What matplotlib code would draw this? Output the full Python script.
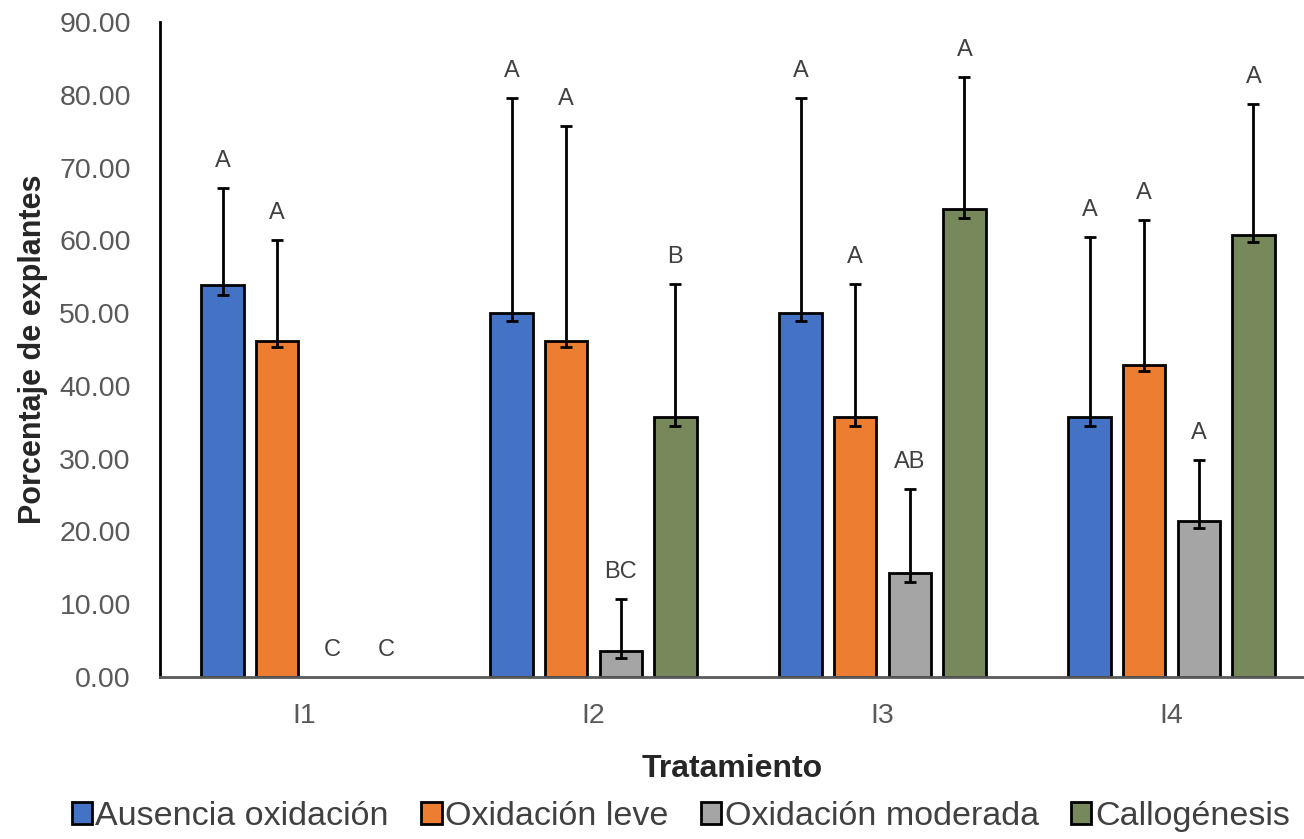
import matplotlib.pyplot as plt
import numpy as np

plt.rcParams['font.family'] = ['Liberation Sans', 'DejaVu Sans']

# tratamientos y series
tratamientos = ['I1', 'I2', 'I3', 'I4']
series = ['Ausencia oxidación', 'Oxidación leve', 'Oxidación moderada', 'Callogénesis']
colores = ['#4472C4', '#ED7D31', '#A5A5A5', '#77885A']

# porcentaje medio de explantes por serie (I1..I4)
ausencia = [53.85, 50.00, 50.00, 35.71]
leve = [46.15, 46.15, 35.71, 42.86]
moderada = [0.00, 3.57, 14.29, 21.43]
callo = [0.00, 35.71, 64.29, 60.71]

# barras de error (superior / inferior)
err_sup = [
    [13.4, 29.6, 29.5, 24.7],
    [13.9, 29.6, 18.3, 20.0],
    [0.0, 7.1, 11.6, 8.4],
    [0.0, 18.3, 18.2, 18.0],
]
err_inf = [
    [1.3, 1.1, 1.1, 1.2],
    [0.8, 0.8, 1.2, 0.8],
    [0.0, 0.9, 1.2, 0.9],
    [0.0, 1.2, 1.2, 0.9],
]

# letras de significancia
letras = [
    ['A', 'A', 'A', 'A'],
    ['A', 'A', 'A', 'A'],
    ['C', 'BC', 'AB', 'A'],
    ['C', 'B', 'A', 'A'],
]

valores = [ausencia, leve, moderada, callo]

fig = plt.figure(figsize=(13.04, 8.39), dpi=100)
ax = fig.add_axes([0.1227, 0.1931, 0.8773, 0.7807])

x = np.arange(len(tratamientos))
ancho = 0.147
paso = 0.189

for i, (vals, nombre, color) in enumerate(zip(valores, series, colores)):
    pos = x + (i - 1.5) * paso
    vals = np.array(vals)
    mask = vals > 0
    # las barras en cero no se dibujan
    ax.bar(pos[mask], vals[mask], width=ancho, color=color, edgecolor='black',
           linewidth=2, label=nombre, zorder=2)
    ax.errorbar(pos[mask], vals[mask],
                yerr=[np.array(err_inf[i])[mask], np.array(err_sup[i])[mask]],
                fmt='none', ecolor='black', elinewidth=2, capsize=4.5,
                capthick=2, zorder=3)
    for xp, v, e, letra in zip(pos, vals, err_sup[i], letras[i]):
        ax.text(xp, v + e + 3.7, letra, ha='center', va='center',
                fontsize=17, color='#404040')

ax.set_ylim(0, 90)
ax.set_xlim(-0.5, -0.5 + 1144 / 289)
ax.set_yticks(np.arange(0, 91, 10))
ax.set_yticklabels([f'{v:.2f}' for v in np.arange(0, 91, 10)])
ax.set_xticks(x)
ax.set_xticklabels(tratamientos)
ax.tick_params(axis='y', length=0, pad=21, labelsize=20.5, labelcolor='#595959')
ax.tick_params(axis='x', length=0, pad=19, labelsize=20.5, labelcolor='#595959')

for lado in ['top', 'right']:
    ax.spines[lado].set_visible(False)
ax.spines['left'].set_linewidth(2)
ax.spines['left'].set_color('black')
ax.spines['bottom'].set_linewidth(2)
ax.spines['bottom'].set_color('#595959')

ax.set_ylabel('Porcentaje de explantes', fontsize=22, fontweight='bold',
              color='#262626', labelpad=8)
ax.set_xlabel('Tratamiento', fontsize=23, fontweight='bold',
              color='#262626', labelpad=18)

fig.legend(loc='center', bbox_to_anchor=(0.522, 0.027), ncol=4, frameon=False,
           fontsize=24.5, handlelength=0.6, handleheight=0.6, handletextpad=0.1,
           columnspacing=0.95, labelcolor='#404040')

fig.savefig('out.png', dpi=100)
